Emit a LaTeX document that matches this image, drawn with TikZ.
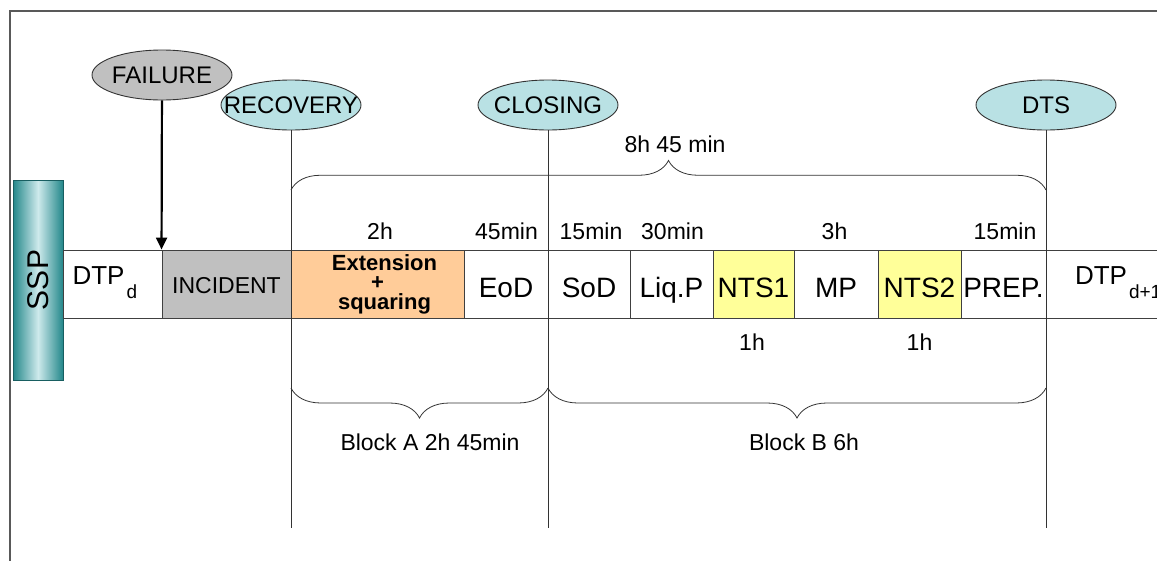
\documentclass[tikz,border=0pt]{standalone}
\usepackage{fontspec}
\setmainfont{Liberation Sans}
\usepackage{tikz}
\usetikzlibrary{shapes.geometric, decorations.pathreplacing, arrows.meta}
\definecolor{lightgrey}{HTML}{C0C0C0}
\definecolor{peach}{HTML}{FFCC99}
\definecolor{paleyellow}{HTML}{FFFF99}
\definecolor{paleteal}{HTML}{B9E1E4}
\definecolor{darkteal}{HTML}{23878A}
\definecolor{barline}{HTML}{404040}
\newcommand\lowsub[1]{\kern2pt\raisebox{-14pt}{\fontsize{19}{19}\selectfont #1}}

\begin{document}
\begin{tikzpicture}[x=1pt, y=-1pt,
	box/.style={draw=barline, line width=0.9pt, minimum height=68pt, inner sep=0pt},
	cell/.style={box, text height=26pt, text depth=0pt, font=\fontsize{28}{30}\selectfont},
	event/.style={ellipse, draw=black!80, line width=0.9pt, minimum width=140pt, minimum height=50pt, inner sep=0pt, font=\fontsize{24}{26}\selectfont},
	dur/.style={anchor=base, font=\fontsize{23}{25}\selectfont},
	timeline/.style={draw=black!80, line width=0.9pt},
	curly/.style={draw=black!80, line width=0.8pt, decorate, decoration={brace, amplitude=#1}}]
			\useasboundingbox (0,0) rectangle (1157,560);
			\clip (0,0) rectangle (1157,560);
			\draw [black!65, line width=1.4pt] (10,580) -- (10,11) -- (1180,11);
			\node [draw=darkteal!70!black, line width=1pt, minimum width=50pt, minimum height=200pt, left color=darkteal, right color=darkteal, middle color=paleteal!70!white, font=\fontsize{30}{30}\selectfont] (ssp) at (38,280) {\rotatebox{90}{SSP}};
			\node [cell, minimum width=99pt, text height=14pt, text depth=14pt, font=\fontsize{26}{28}\selectfont] (dtpd) at (112.5,284) {\makebox[80pt][l]{DTP\lowsub{d}}};
			\node [cell, minimum width=129pt, fill=lightgrey, text height=18pt, font=\fontsize{23}{25}\selectfont] (incident) at (226.5,284) {INCIDENT};
			\node [box, minimum width=173pt, fill=peach, align=center, font=\fontsize{22}{19.5}\selectfont\bfseries] (ext) at (377.5,284) {\hspace*{14pt}Extension\\+\\\hspace*{14pt}squaring};
			\node [cell, minimum width=84pt] (eod) at (506,284) {EoD};
			\node [cell, minimum width=82pt] (sod) at (589,284) {SoD};
			\node [cell, minimum width=83pt] (liqp) at (671.5,284) {Liq.P};
			\node [cell, minimum width=81pt, fill=paleyellow] (nts1) at (753.5,284) {NTS1};
			\node [cell, minimum width=84pt] (mp) at (836,284) {MP};
			\node [cell, minimum width=83pt, fill=paleyellow] (nts2) at (919.5,284) {NTS2};
			\node [cell, minimum width=85pt] (prep) at (1003.5,284) {PREP.};
			\node [cell, minimum width=140pt, text height=14pt, text depth=14pt, font=\fontsize{26}{28}\selectfont] (dtpnext) at (1116,284) {\makebox[82pt][l]{DTP\lowsub{d+1}}};
			\node [event, fill=lightgrey] (failure) at (162,75) {\makebox[0pt]{FAILURE}};
			\node [event, fill=paleteal] (recovery) at (291,105) {\makebox[0pt]{RECOVERY}};
			\node [event, fill=paleteal] (closing) at (548,105) {\makebox[0pt]{CLOSING}};
			\node [event, fill=paleteal] (dts) at (1046,105) {\makebox[0pt]{DTS}};
			\draw [line width=2.2pt, -{Triangle[length=12pt, width=11pt]}] (failure) -- (incident.north west);
			\coordinate (recend) at (291,528);
			\coordinate (closend) at (548,528);
			\coordinate (dtsend) at (1046,528);
			\draw [timeline] (recovery) -- (recend);
			\draw [timeline] (closing) -- (closend);
			\draw [timeline] (dts) -- (dtsend);
			\coordinate (toprec) at (291,190);
			\coordinate (topdts) at (1046,190);
			\coordinate (botrec) at (291,388);
			\coordinate (botclos) at (548,388);
			\coordinate (botdts) at (1046,388);
			\draw [curly=29.5pt] (toprec) -- (topdts);
			\draw [curly=30pt] (botclos) -- (botrec);
			\draw [curly=30pt] (botdts) -- (botclos);
			\node [dur] (total) at (675,152) {8h 45 min};
			\node [dur] (t2h) at (380,239) {2h};
			\node [dur] (t45) at (506.5,239) {45min};
			\node [dur] (t15a) at (591,239) {15min};
			\node [dur] (t30) at (672.5,239) {30min};
			\node [dur] (t3h) at (834.5,239) {3h};
			\node [dur] (t15b) at (1005,239) {15min};
			\node [dur] (t1a) at (752,350) {1h};
			\node [dur] (t1b) at (919.5,350) {1h};
			\node [dur] (blocka) at (430,450) {Block A 2h 45min};
			\node [dur] (blockb) at (804,450) {Block B 6h};
		\end{tikzpicture}
\end{document}
